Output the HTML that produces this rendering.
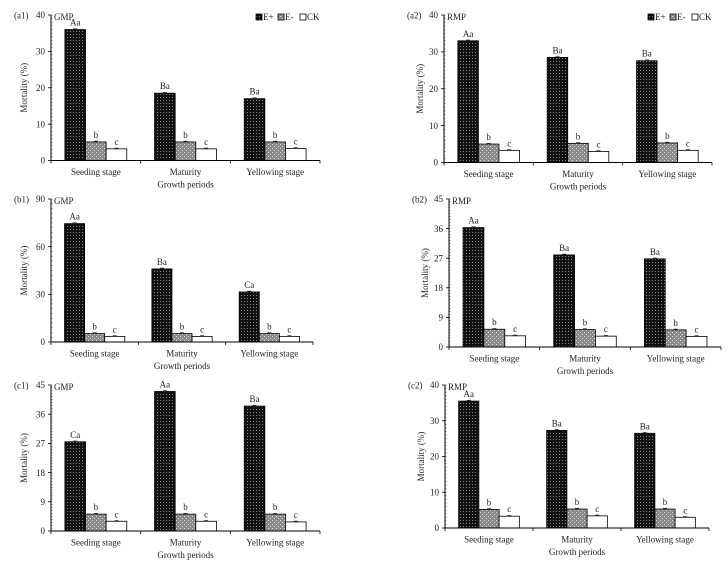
<!DOCTYPE html>
<html><head><meta charset="utf-8"><style>
body{margin:0;background:#fff}
svg{display:block;font-family:"Liberation Serif",serif}
</style></head><body>
<svg id="chart" width="728" height="567" viewBox="0 0 728 567" xmlns="http://www.w3.org/2000/svg">
<defs>
<pattern id="pE" width="3" height="3" patternUnits="userSpaceOnUse"><rect width="3" height="3" fill="#111"/><rect x="1" y="1" width="1" height="1" fill="#888"/></pattern>
<pattern id="pM" width="4" height="4" patternUnits="userSpaceOnUse"><rect width="4" height="4" fill="#8a8a8a"/><rect x="0" y="0" width="1" height="1" fill="#ddd"/><rect x="2" y="2" width="1" height="1" fill="#ddd"/></pattern>
</defs>
</svg>
<script>
const categories = ["Seeding stage","Maturity","Yellowing stage"];
const seriesNames = ["E+","E-","CK"];
const a1Eplus=[36,18.5,17], a1Eminus=[5.1,5.1,5.1], a1CK=[3.2,3.2,3.3];
const a2Eplus=[33,28.5,27.6], a2Eminus=[5,5.2,5.3], a2CK=[3.3,3.0,3.3];
const b1Eplus=[74.5,46,31.5], b1Eminus=[5.3,5.3,5.3], b1CK=[3.5,3.5,3.5];
const b2Eplus=[36.3,28,26.8], b2Eminus=[5.4,5.3,5.2], b2CK=[3.4,3.3,3.2];
const c1Eplus=[27.5,43,38.5], c1Eminus=[5.2,5.2,5.2], c1CK=[3.0,3.0,2.8];
const c2Eplus=[35.5,27.3,26.5], c2Eminus=[5.2,5.3,5.3], c2CK=[3.3,3.4,3.0];
const a1Letters=["Aa","Ba","Ba"], a2Letters=["Aa","Ba","Ba"], b1Letters=["Aa","Ba","Ca"];
const b2Letters=["Aa","Ba","Ba"], c1Letters=["Ca","Aa","Ba"], c2Letters=["Aa","Ba","Ba"];
const a1Ticks=[0,10,20,30,40], a2Ticks=[0,10,20,30,40], b1Ticks=[0,30,60,90];
const b2Ticks=[0,9,18,27,36,45], c1Ticks=[0,9,18,27,36,45], c2Ticks=[0,10,20,30,40];

const NS="http://www.w3.org/2000/svg";
const svg=document.getElementById('chart');
function mk(tag,at,parent,txt){const e=document.createElementNS(NS,tag);for(const k in at)e.setAttribute(k,at[k]);if(txt!==undefined)e.textContent=txt;(parent||svg).appendChild(e);return e;}

const panels=[
 {id:"a1",plant:"GMP",ax:51,top:15,zero:160.5,right:320,ticks:a1Ticks,s:[a1Eplus,a1Eminus,a1CK],L:a1Letters,legend:true,yt:24},
 {id:"a2",plant:"RMP",ax:444,top:15,zero:162.5,right:712,ticks:a2Ticks,s:[a2Eplus,a2Eminus,a2CK],L:a2Letters,legend:true,yt:21},
 {id:"b1",plant:"GMP",ax:51,top:199,zero:342,right:313,ticks:b1Ticks,s:[b1Eplus,b1Eminus,b1CK],L:b1Letters,yt:24},
 {id:"b2",plant:"RMP",ax:449,top:199,zero:347,right:721,ticks:b2Ticks,s:[b2Eplus,b2Eminus,b2CK],L:b2Letters,yt:21},
 {id:"c1",plant:"GMP",ax:51,top:385,zero:531,right:320,ticks:c1Ticks,s:[c1Eplus,c1Eminus,c1CK],L:c1Letters,yt:24},
 {id:"c2",plant:"RMP",ax:445,top:385,zero:528,right:709,ticks:c2Ticks,s:[c2Eplus,c2Eminus,c2CK],L:c2Letters,yt:21}
];
const fills=["url(#pE)","url(#pM)","#fff"];
const FS=9;

panels.forEach(p=>{
 const g=mk('g',{});
 
 
 const max=p.ticks[p.ticks.length-1];
 const y=v=>p.zero-(v/max)*(p.zero-p.top);
 const gw=(p.right-p.ax)/categories.length;
 const bw=gw*0.23, off=gw*0.155;
 const x=(ci,si)=>p.ax+ci*gw+off+si*bw;
 p.s.forEach((vals,si)=>vals.forEach((v,ci)=>{
  const r=mk('rect',{x:x(ci,si),y:y(v),width:bw,height:p.zero-y(v),fill:fills[si],stroke:'#000','stroke-width':0.8},g);
  
  
  const cx=x(ci,si)+bw/2;
  mk('line',{x1:cx-2,x2:cx+2,y1:y(v)-0.8,y2:y(v)-0.8,stroke:'#000','stroke-width':0.6},g);
  const lab=si===0?p.L[ci]:(si===1?'b':'c');
  const t=mk('text',{x:cx,y:y(v)-4,'font-size':FS,'text-anchor':'middle',fill:'#222'},g,lab);
  
  
 }));
 mk('line',{x1:p.ax,x2:p.ax,y1:p.top,y2:p.zero,stroke:'#000','stroke-width':1},g);
 mk('line',{x1:p.ax,x2:p.right,y1:p.zero,y2:p.zero,stroke:'#000','stroke-width':1},g);
 for(let i=0;i<=categories.length;i++){const tx=p.ax+i*gw;mk('line',{x1:tx,x2:tx,y1:p.zero,y2:p.zero+3,stroke:'#000','stroke-width':0.8},g);}
 const step=p.ticks[1]-p.ticks[0];
 for(let v=0;v<=max+1e-9;v+=step/10){mk('line',{x1:p.ax,x2:p.ax+1.5,y1:y(v),y2:y(v),stroke:'#000','stroke-width':0.4},g);}
 p.ticks.forEach(v=>{
  mk('line',{x1:p.ax-3,x2:p.ax,y1:y(v),y2:y(v),stroke:'#000','stroke-width':0.8},g);
  const t=mk('text',{x:p.ax-6,y:y(v)+3.2,'font-size':FS,'text-anchor':'end',fill:'#222'},g,v);
  
  
 });
 categories.forEach((c,ci)=>{
  const t=mk('text',{x:p.ax+ci*gw+gw/2,y:p.zero+14.5,'font-size':FS,'text-anchor':'middle',fill:'#222'},g,c);
  
  
 });
 const xt=mk('text',{x:(p.ax+p.right)/2,y:p.zero+27,'font-size':FS,'text-anchor':'middle',fill:'#222'},g,'Growth periods');
 
 
 const ty=(p.top+p.zero)/2, tx=p.ax-p.yt;
 const yt=mk('text',{x:tx,y:ty,'font-size':FS,'text-anchor':'middle',fill:'#222',transform:`rotate(-90 ${tx} ${ty})`},g,'Mortality (%)');
 
 
 const pl=mk('text',{x:p.ax-37,y:p.top+3.5,'font-size':FS,fill:'#222'},g,'('+p.id+')');
 
 
 const pn=mk('text',{x:p.ax+3,y:p.top+5,'font-size':FS,fill:'#222'},g,p.plant);
 
 
 if(p.legend){
  const lx=p.right-64, ly=p.top+5;
  seriesNames.forEach((n,si)=>{
   const ex=lx+si*22;
   const sw=mk('rect',{x:ex,y:ly-6,width:6,height:6,fill:fills[si],stroke:'#000','stroke-width':0.8},g);
   
   
   const t=mk('text',{x:ex+7,y:ly,'font-size':FS,fill:'#222'},g,n);
   
   
  });
 }
});
</script>
</body></html>
